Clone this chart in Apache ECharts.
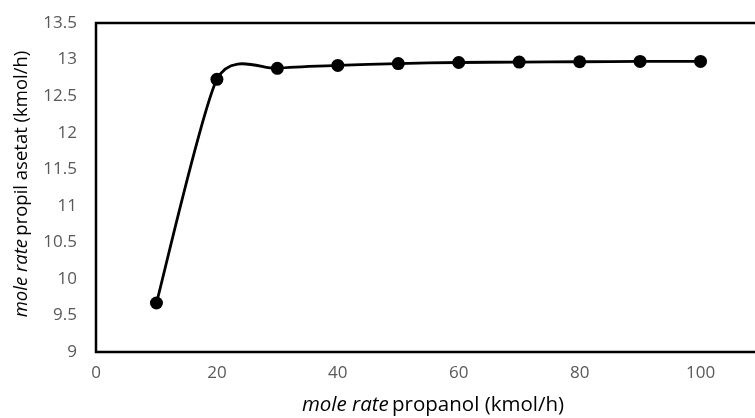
<!DOCTYPE html>
<html><head><meta charset="utf-8">
<script src="https://cdn.jsdelivr.net/npm/echarts@6/dist/echarts.min.js"></script>
<style>html,body{margin:0;padding:0;background:#fff}#c{width:755px;height:418px}</style>
</head><body><div id="c"></div>
<script>
const xValues = [10, 20, 30, 40, 50, 60, 70, 80, 90, 100];
const yValues = [9.67, 12.73, 12.88, 12.92, 12.945, 12.96, 12.965, 12.97, 12.975, 12.975];
const xTicks = [0, 20, 40, 60, 80, 100];
const yTicks = [9, 9.5, 10, 10.5, 11, 11.5, 12, 12.5, 13, 13.5];

const chart = echarts.init(document.getElementById('c'));
const font = 'Open Sans';
const points = xValues.map((x, i) => [x, yValues[i]]);
const n = points.length;
const tension = 0.12;
function titleRich(size) {
  return {
    i: { fontStyle: 'italic', fontFamily: font, fontSize: size, color: '#404040' },
    n: { fontFamily: font, fontSize: size, color: '#404040' }
  };
}
chart.setOption({
  animation: false,
  grid: { left: 96, top: 23, width: 665, height: 329, outerBoundsMode: 'none', containLabel: false,
    show: true, borderColor: '#000', borderWidth: 2.5, backgroundColor: 'transparent' },
  xAxis: {
    type: 'value', min: 0, max: 110, interval: 20,
    axisLine: { show: false },
    axisTick: { show: false },
    splitLine: { show: false },
    axisLabel: { color: '#595959', fontFamily: font, fontSize: 17, margin: 13,
      formatter: v => xTicks.includes(v) ? String(v) : '' }
  },
  yAxis: {
    type: 'value', min: 9, max: 13.5, interval: 0.5,
    axisLine: { show: false },
    axisTick: { show: false },
    splitLine: { show: false },
    axisLabel: { color: '#595959', fontFamily: font, fontSize: 17, margin: 19,
      formatter: v => yTicks.includes(v) ? String(v) : '' }
  },
  graphic: [
    { type: 'text', x: 433, y: 405, style: {
      rich: titleRich(20.5), text: '{i|mole rate} {n|propanol (kmol/h)}', align: 'center', verticalAlign: 'middle' } },
    { type: 'text', x: 22, y: 184, rotation: Math.PI / 2, style: {
      rich: titleRich(18.5), text: '{i|mole rate} {n|propil asetat (kmol/h)}', align: 'center', verticalAlign: 'middle' } }
  ],
  series: [{
    type: 'custom',
    data: points,
    encode: { x: 0, y: 1 },
    renderItem: function (params, api) {
      const i = params.dataIndex;
      if (i >= n - 1) return null;
      const c = j => { j = Math.max(0, Math.min(n - 1, j)); return api.coord(points[j]); };
      const p0 = c(i - 1), p1 = c(i), p2 = c(i + 1), p3 = c(i + 2);
      return {
        type: 'bezierCurve',
        shape: {
          x1: p1[0], y1: p1[1], x2: p2[0], y2: p2[1],
          cpx1: p1[0] + tension * (p2[0] - p0[0]), cpy1: p1[1] + tension * (p2[1] - p0[1]),
          cpx2: p2[0] - tension * (p3[0] - p1[0]), cpy2: p2[1] - tension * (p3[1] - p1[1])
        },
        style: { stroke: '#000', lineWidth: 2.8, fill: null }
      };
    },
    z: 2
  }, {
    type: 'scatter',
    data: points,
    symbol: 'circle', symbolSize: 13,
    itemStyle: { color: '#000', opacity: 1 },
    z: 3
  }]
});
</script></body></html>
